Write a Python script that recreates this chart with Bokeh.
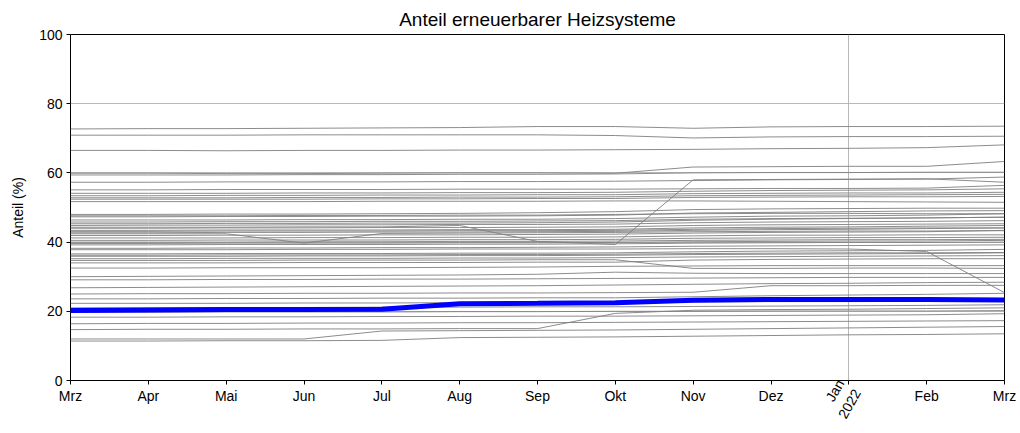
import math
from bokeh.plotting import figure
from bokeh.models import Range1d, FixedTicker, LinearAxis
from bokeh.embed import file_html
from bokeh.resources import INLINE

months = ["Mrz", "Apr", "Mai", "Jun", "Jul", "Aug", "Sep", "Okt", "Nov", "Dez", "Jan", "Feb", "Mrz"]
year_tick_label = "Jan\n2022"

highlight = [20.2, 20.4, 20.5, 20.5, 20.6, 22.2, 22.3, 22.5, 23.2, 23.4, 23.4, 23.4, 23.3]

others = [
    [72.7, 72.8, 72.8, 72.9, 73.0, 73.1, 73.4, 73.4, 72.9, 73.3, 73.4, 73.4, 73.5],
    [70.9, 70.9, 70.9, 71.0, 71.0, 71.0, 71.0, 70.8, 70.1, 70.4, 70.5, 70.5, 70.6],
    [66.5, 66.5, 66.4, 66.5, 66.5, 66.6, 66.6, 66.7, 66.8, 67.0, 67.1, 67.3, 68.1],
    [59.9, 59.9, 59.8, 59.8, 59.9, 60.0, 60.0, 59.9, 61.7, 61.8, 61.9, 61.9, 63.3],
    [59.4, 59.4, 59.4, 59.5, 59.5, 59.6, 59.6, 59.7, 60.0, 60.1, 60.1, 60.2, 60.2],
    [57.3, 57.3, 57.4, 57.4, 57.4, 57.5, 57.5, 57.6, 57.8, 58.0, 58.1, 58.2, 58.8],
    [55.1, 55.1, 55.2, 55.2, 55.2, 55.3, 55.3, 55.3, 55.4, 55.5, 55.5, 55.6, 56.4],
    [54.1, 54.1, 54.1, 54.2, 54.2, 54.3, 54.3, 54.4, 54.7, 54.9, 55.0, 55.1, 55.4],
    [53.4, 53.4, 53.5, 53.5, 53.6, 53.6, 53.7, 53.7, 54.0, 54.1, 54.2, 54.2, 54.4],
    [52.8, 52.8, 52.8, 52.9, 52.9, 53.0, 53.0, 53.1, 53.4, 53.5, 53.6, 53.7, 53.8],
    [52.4, 52.4, 52.4, 52.4, 52.5, 52.5, 52.6, 52.6, 52.9, 53.0, 53.1, 53.1, 53.2],
    [51.7, 51.7, 51.7, 51.7, 51.8, 51.8, 51.8, 51.9, 51.9, 51.8, 51.7, 51.6, 51.5],
    [44.3, 44.3, 44.3, 44.4, 44.4, 44.8, 40.2, 39.3, 58.0, 58.1, 58.2, 58.3, 57.3],
    [48.0, 48.0, 48.1, 48.1, 48.2, 48.3, 48.5, 48.8, 49.4, 49.6, 49.7, 49.8, 49.8],
    [47.3, 47.3, 47.4, 47.4, 47.5, 47.5, 47.6, 47.8, 48.4, 48.6, 48.8, 49.0, 49.1],
    [47.6, 47.6, 47.6, 47.7, 47.7, 47.8, 47.8, 48.0, 48.2, 48.3, 48.3, 48.2, 48.2],
    [46.4, 46.4, 46.4, 46.5, 46.5, 46.6, 46.6, 46.8, 47.2, 47.5, 47.6, 47.8, 48.2],
    [45.8, 45.8, 45.9, 45.9, 46.0, 46.0, 46.1, 46.2, 46.6, 46.8, 46.9, 47.0, 47.2],
    [45.3, 45.3, 45.4, 45.4, 45.5, 45.5, 45.6, 45.8, 46.3, 46.6, 46.8, 47.0, 47.2],
    [44.8, 44.9, 44.9, 45.0, 45.0, 45.1, 45.1, 45.2, 45.6, 45.8, 45.9, 46.0, 46.2],
    [44.0, 44.0, 44.1, 44.1, 44.2, 44.2, 44.3, 44.4, 44.8, 45.0, 45.1, 45.2, 45.3],
    [43.4, 43.4, 43.5, 43.5, 43.5, 43.6, 43.6, 43.7, 44.1, 44.3, 44.4, 44.6, 44.8],
    [43.1, 43.1, 43.2, 43.2, 43.2, 43.3, 43.3, 43.4, 43.7, 43.9, 44.0, 44.1, 44.1],
    [42.7, 42.7, 42.8, 42.8, 42.9, 42.9, 43.0, 43.1, 43.4, 43.6, 43.7, 43.9, 44.1],
    [41.9, 41.9, 42.0, 42.0, 42.1, 42.1, 42.2, 42.3, 42.6, 42.8, 42.9, 43.0, 43.4],
    [41.2, 41.2, 41.2, 41.3, 41.3, 41.4, 41.4, 41.5, 41.8, 42.0, 42.0, 42.1, 42.1],
    [40.5, 40.5, 40.6, 40.6, 40.6, 40.7, 40.7, 40.8, 41.1, 41.2, 41.3, 41.3, 41.4],
    [40.0, 40.0, 40.0, 40.1, 40.1, 40.2, 40.2, 40.3, 40.5, 40.6, 40.7, 40.7, 40.8],
    [39.6, 39.6, 39.7, 39.7, 42.5, 42.6, 42.7, 42.8, 43.0, 43.1, 43.2, 43.2, 43.3],
    [42.4, 42.4, 42.4, 39.7, 39.7, 39.8, 39.8, 39.9, 40.1, 40.2, 40.3, 40.3, 40.5],
    [39.2, 39.2, 39.3, 39.3, 39.3, 39.4, 39.4, 39.5, 39.7, 39.8, 39.9, 39.9, 40.0],
    [38.2, 38.2, 38.3, 38.3, 38.4, 38.4, 38.5, 38.6, 38.8, 38.9, 39.0, 39.1, 39.2],
    [37.8, 37.8, 37.8, 37.9, 37.9, 38.0, 38.0, 38.0, 38.1, 38.1, 38.0, 37.3, 25.4],
    [36.6, 36.6, 36.7, 36.7, 36.7, 36.8, 36.8, 36.9, 37.2, 37.4, 37.5, 37.6, 37.9],
    [36.2, 36.2, 36.3, 36.3, 36.3, 36.4, 36.4, 36.5, 36.7, 36.8, 36.9, 36.9, 37.0],
    [35.9, 35.9, 35.9, 36.0, 36.0, 36.1, 36.1, 36.2, 36.4, 36.5, 36.6, 36.7, 36.9],
    [35.2, 35.2, 35.3, 35.3, 35.3, 35.4, 35.4, 35.5, 35.7, 35.8, 35.9, 36.0, 36.1],
    [34.7, 34.7, 34.7, 34.8, 34.8, 34.8, 34.9, 34.9, 32.4, 32.4, 32.5, 32.5, 32.4],
    [34.0, 34.0, 34.0, 34.1, 34.1, 34.1, 34.2, 34.2, 34.8, 35.0, 35.1, 35.2, 35.2],
    [32.5, 32.5, 32.6, 32.6, 32.6, 32.7, 32.8, 33.0, 33.1, 33.2, 33.2, 33.2, 33.2],
    [30.0, 30.1, 30.2, 30.3, 30.4, 30.5, 30.7, 31.3, 31.0, 30.9, 30.9, 30.9, 30.9],
    [29.1, 29.1, 29.2, 29.2, 29.3, 29.3, 29.4, 29.5, 29.6, 29.7, 29.8, 29.8, 29.8],
    [26.8, 26.9, 27.0, 27.1, 27.2, 27.3, 27.4, 27.6, 27.8, 28.0, 28.1, 28.3, 28.4],
    [25.0, 25.1, 25.1, 25.2, 25.2, 25.3, 25.3, 25.4, 25.5, 27.4, 27.4, 27.5, 27.5],
    [23.6, 23.6, 23.7, 23.7, 23.8, 23.8, 23.9, 23.9, 24.2, 24.5, 24.7, 24.9, 25.2],
    [22.3, 22.3, 22.3, 22.4, 22.4, 22.5, 22.5, 22.6, 22.7, 22.8, 22.8, 22.9, 23.0],
    [21.0, 21.0, 21.1, 21.1, 21.2, 21.2, 21.3, 21.3, 21.4, 21.5, 21.6, 21.7, 21.9],
    [19.7, 19.7, 19.8, 19.8, 19.8, 19.9, 19.9, 20.0, 20.0, 20.1, 20.1, 20.1, 20.2],
    [18.3, 18.3, 18.4, 18.4, 18.5, 18.5, 18.6, 18.6, 18.7, 18.8, 18.9, 19.0, 19.3],
    [16.4, 16.5, 16.5, 16.6, 16.6, 16.7, 16.7, 16.8, 16.9, 17.0, 17.1, 17.2, 17.3],
    [14.7, 14.8, 14.8, 14.9, 14.9, 15.0, 15.0, 19.4, 20.3, 20.5, 20.6, 20.8, 21.0],
    [12.0, 12.0, 12.0, 12.0, 14.3, 14.4, 14.5, 14.6, 14.8, 15.0, 15.2, 15.4, 15.6],
    [11.4, 11.4, 11.5, 11.5, 11.6, 12.4, 12.5, 12.6, 12.8, 13.0, 13.2, 13.3, 13.5],
]

x_idx = list(range(len(months)))
JAN = 10
FONT = "Liberation Sans"

p = figure(width=1020, height=433, output_backend="svg", toolbar_location=None,
           x_range=Range1d(0, 12), y_range=Range1d(0, 100),
           title="Anteil erneuerbarer Heizsysteme",
           min_border_left=70, min_border_right=16, min_border_top=34, min_border_bottom=53)

p.title.align = "center"
p.title.text_font = FONT
p.title.text_font_size = "19px"
p.title.text_font_style = "normal"
p.title.text_color = "black"

for ys in others:
    p.line(x_idx, ys, line_color="#808080", line_width=1.0, line_alpha=0.9)
p.line(x_idx, highlight, line_color="#0000ff", line_width=5)

p.outline_line_color = "black"
p.outline_line_width = 1
p.outline_line_alpha = 1

month_axis = p.xaxis[0]
p.yaxis.ticker = FixedTicker(ticks=[0, 20, 40, 60, 80, 100])
p.yaxis.axis_label = "Anteil (%)"

for ax in (p.xaxis + p.yaxis):
    ax.axis_line_color = None
    ax.major_tick_out = 4
    ax.major_tick_in = 0
    ax.minor_tick_line_color = None
    ax.major_tick_line_color = "black"
    ax.major_label_text_font = FONT
    ax.major_label_text_font_size = "14px"
    ax.major_label_text_color = "black"
    ax.axis_label_text_font = FONT
    ax.axis_label_text_font_size = "14px"
    ax.axis_label_text_font_style = "normal"
    ax.axis_label_text_color = "black"
p.yaxis.major_label_standoff = 4
p.yaxis.axis_label_standoff = 10

# axis nearest the frame: tick marks + rotated "Jan 2022" label
year_axis = LinearAxis(ticker=FixedTicker(ticks=x_idx),
                       major_label_overrides={i: (year_tick_label if i == JAN else "") for i in x_idx},
                       major_label_orientation=math.radians(60),
                       axis_line_color=None, major_tick_line_color="black",
                       minor_tick_line_color=None,
                       major_tick_out=4, major_tick_in=0,
                       major_label_standoff=1,
                       major_label_text_font=FONT, major_label_text_font_size="14px",
                       major_label_text_color="black")

# outer axis: horizontal month names, pulled back up right under the tick marks
month_axis.ticker = FixedTicker(ticks=x_idx)
month_axis.major_label_overrides = {i: (m if i != JAN else "") for i, m in enumerate(months)}
month_axis.major_tick_line_color = None
month_axis.major_tick_out = 0
month_axis.major_label_standoff = -46

p.below = [year_axis, month_axis]

p.xgrid.ticker = FixedTicker(ticks=[JAN])
p.ygrid.ticker = FixedTicker(ticks=[20, 40, 60, 80])
p.grid.grid_line_color = "#b0b0b0"
p.grid.grid_line_width = 0.9

open("out.html", "w").write(file_html(p, INLINE))
